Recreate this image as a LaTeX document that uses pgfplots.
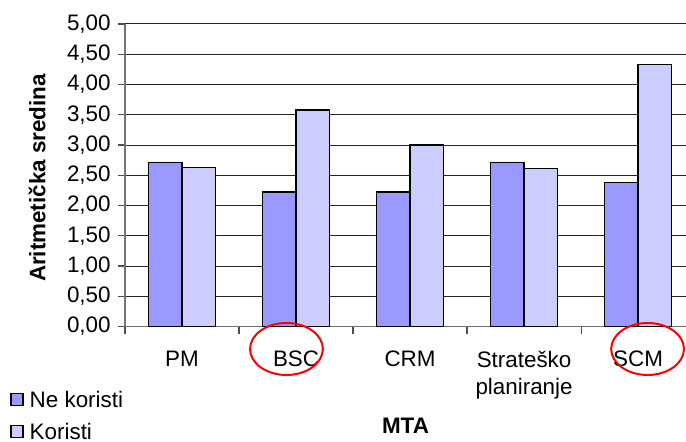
\documentclass[border=0pt]{standalone}
\usepackage{pgfplots}
\pgfplotsset{compat=1.18}
\usepackage{fontspec}
\setmainfont{Liberation Sans}
\definecolor{nekor}{HTML}{9999FF}
\definecolor{kor}{HTML}{CCCCFF}
\begin{document}
\begin{tikzpicture}
\begin{axis}[
    scale only axis, clip=false,
    width=280.5pt, height=151.3pt,
    ybar=0pt, bar width=0.294,
    xmin=-0.5, xmax=4.42,
    ymin=0, ymax=5,
    ytick={0,0.5,...,5},
    xtick={0,1,2,3,4},
    xticklabels={PM,BSC,CRM,{Strateško\\planiranje},SCM},
    minor xtick={-0.5,0.5,1.5,2.5,3.5},
    major x tick style={draw=none},
    minor x tick style={black!70, line width=0.6pt},
    y tick style={black!70, line width=0.6pt},
    tick align=outside,
    major tick length=3.5pt, minor tick length=3.5pt,
    axis x line*=bottom, axis y line*=left,
    axis line style={black!55, line width=0.7pt, -},
    ymajorgrids,
    grid style={black!85, line width=0.5pt},
    /pgf/number format/assume math mode=true,
    y tick label style={/pgf/number format/fixed, /pgf/number format/fixed zerofill,
        /pgf/number format/precision=2, /pgf/number format/use comma,
        inner sep=0pt, xshift=-3.5pt},
    tick label style={font=\fontsize{11.2}{13.5}\selectfont},
    xticklabel style={align=center, anchor=north, inner sep=0pt, yshift=-8.5pt},
    xlabel={MTA},
    ylabel={Aritmetička sredina},
    xlabel style={font=\bfseries\fontsize{11.2}{13.5}\selectfont, at={([yshift=-49.5pt]rel axis cs:0.5,0)}, anchor=center},
    ylabel style={font=\bfseries\fontsize{11.2}{13.5}\selectfont, at={([xshift=-44pt]rel axis cs:0,0.491)}, anchor=center},
    legend style={at={(axis description cs:-0.205,-0.214)}, anchor=north west,
        draw=none, fill=none, font=\fontsize{11.2}{13.5}\selectfont,
        row sep=7.8pt, inner sep=0pt, nodes={inner sep=0pt, text height=8pt, text depth=0pt},
        legend cell align=left},
    legend image code/.code={\draw[#1, line width=0.6pt] (0pt,-3pt) rectangle (6pt,3pt); \path (9pt,0pt);},
    every axis plot/.append style={draw=black, line width=0.75pt},
]
\addplot[fill=nekor] coordinates {(0,2.71) (1,2.22) (2,2.22) (3,2.71) (4,2.38)};
\addplot[fill=kor] coordinates {(0,2.63) (1,3.58) (2,3.00) (3,2.61) (4,4.33)};
\legend{Ne koristi, Koristi}
\draw[red, line width=1pt] ([yshift=-11.2pt]axis cs:0.916,0) ellipse [x radius=18.2pt, y radius=13pt];
\draw[red, line width=1pt] ([yshift=-11.2pt]axis cs:4.083,0) ellipse [x radius=18.2pt, y radius=13pt];
\end{axis}
\pgfresetboundingbox
\path[use as bounding box] (-62.5pt,-57.65pt) rectangle (280.5pt,163.3pt);
\end{tikzpicture}
\end{document}
